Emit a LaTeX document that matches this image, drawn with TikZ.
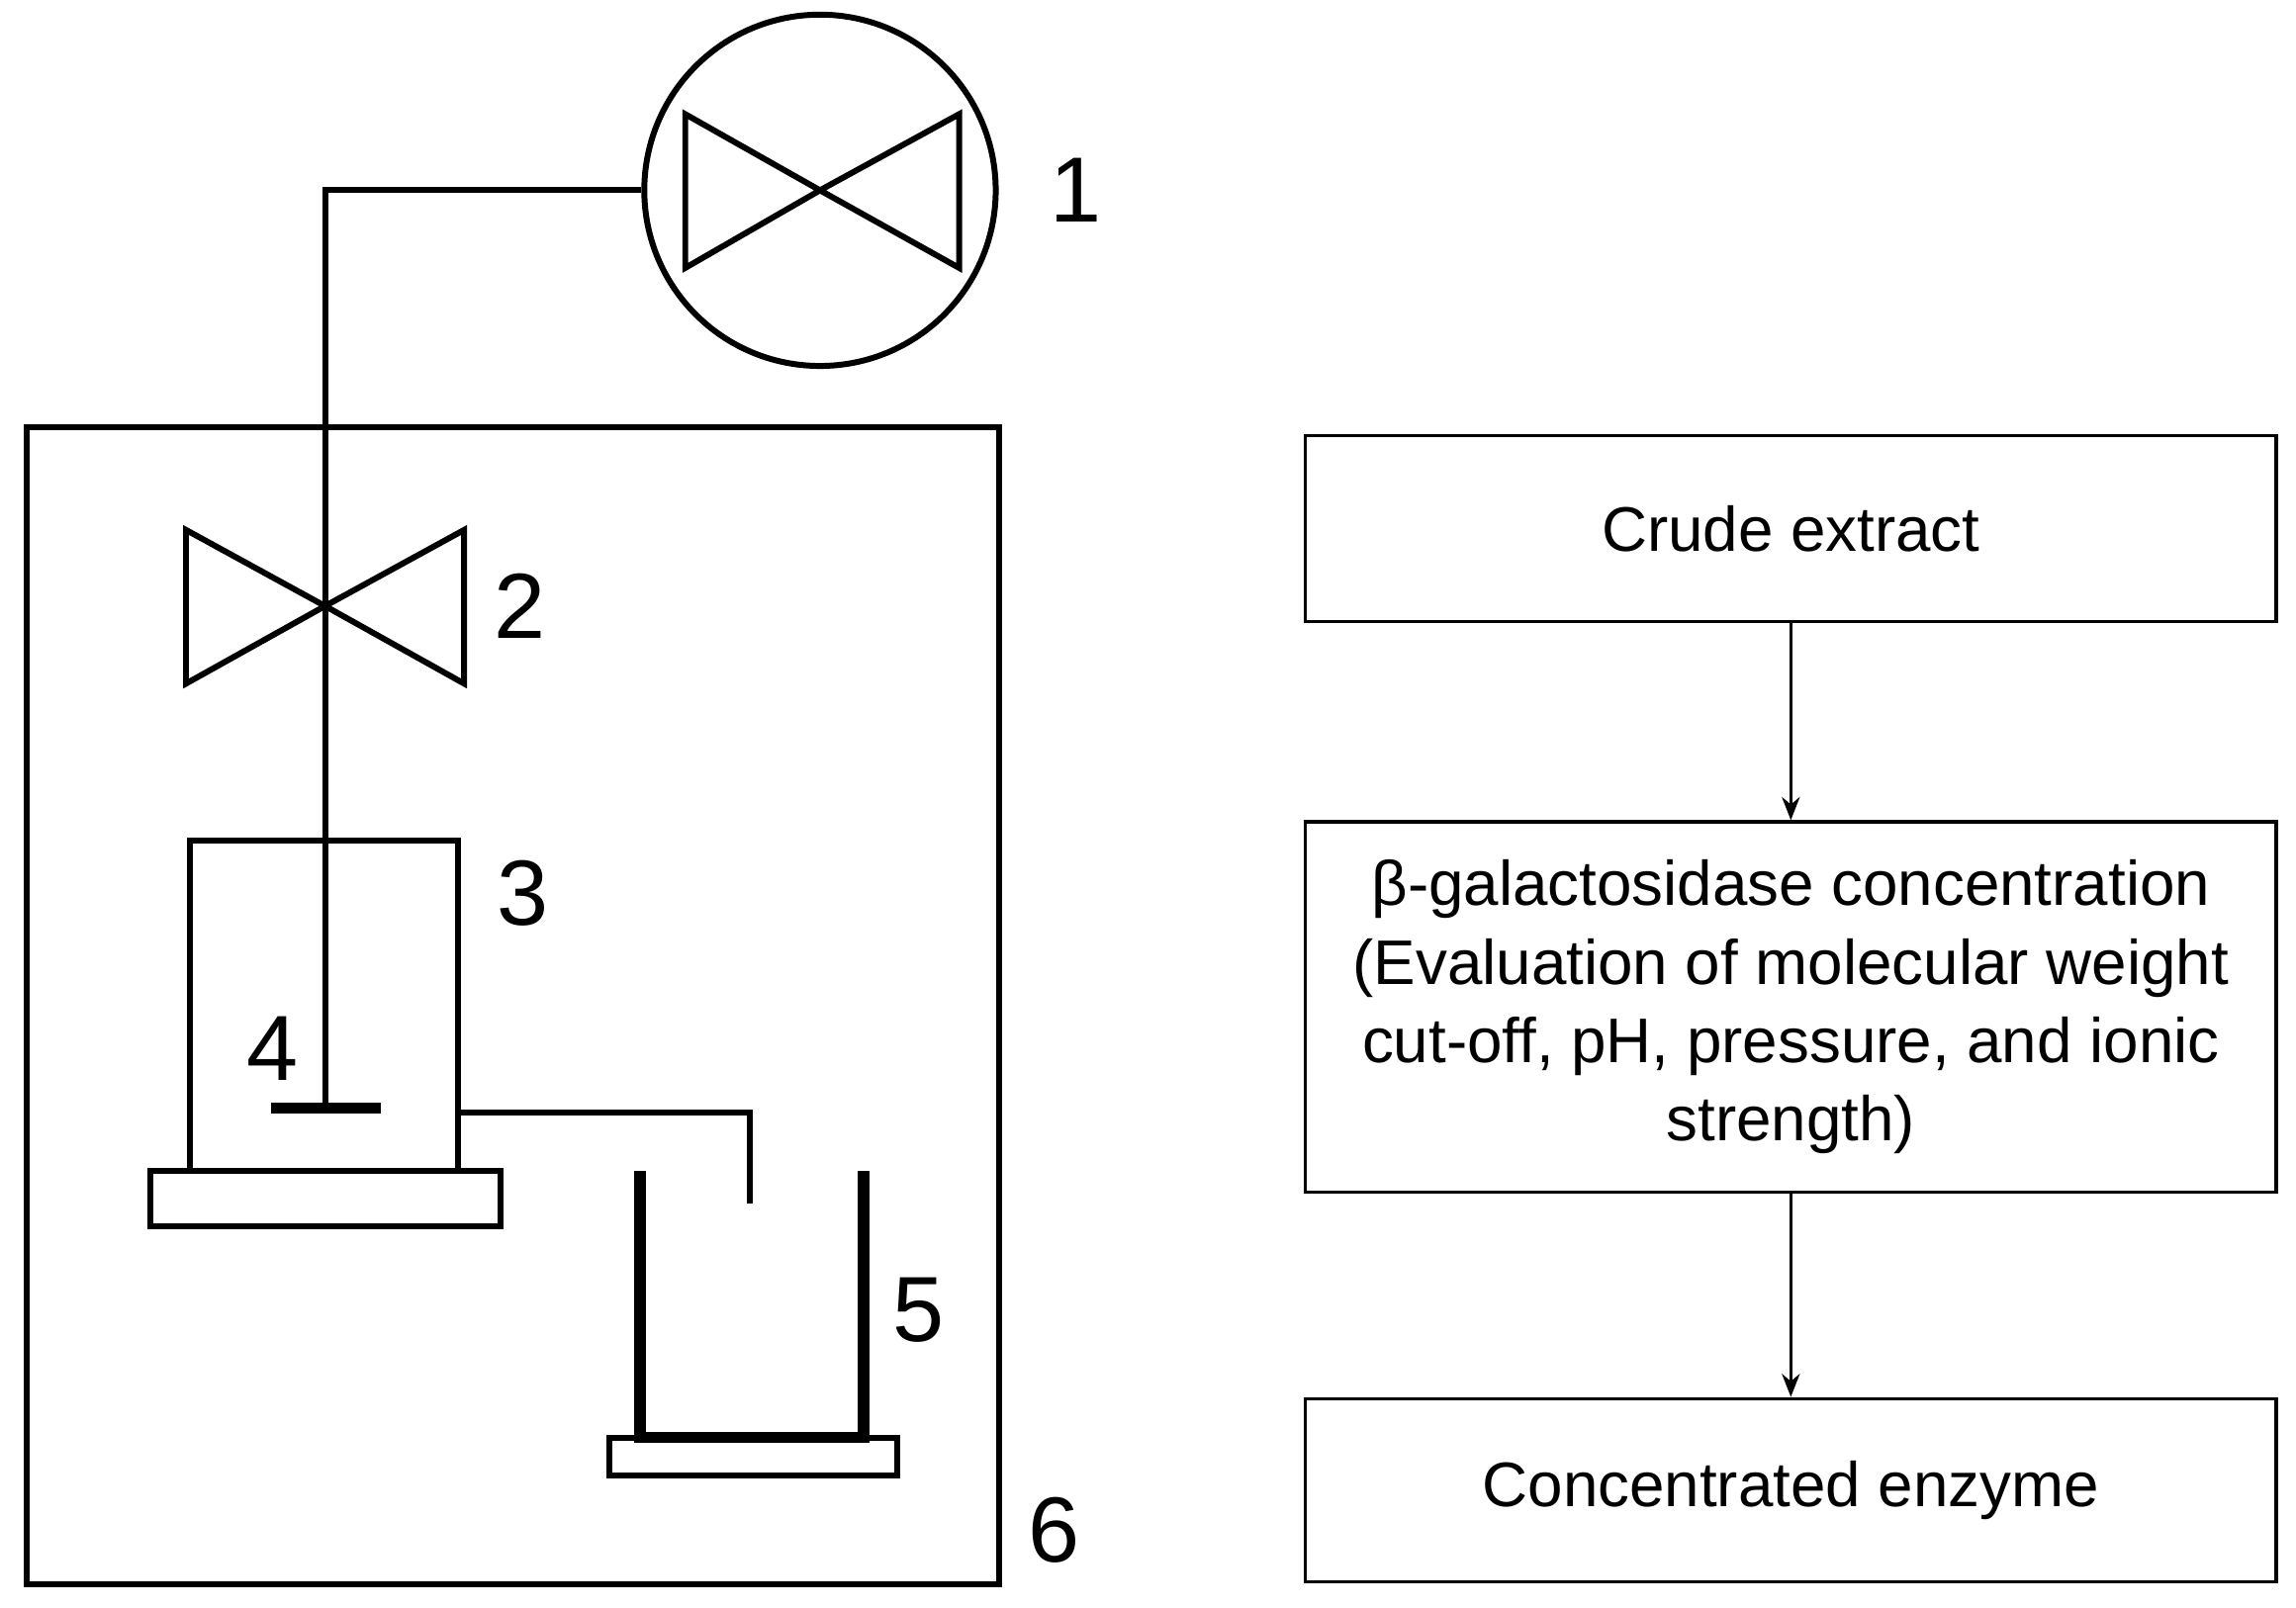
\documentclass[tikz,border=0pt]{standalone}
\usepackage{fontspec}
\setmainfont{Liberation Sans}
\usetikzlibrary{arrows.meta}
\begin{document}
\begin{tikzpicture}[x=0.02cm,y=-0.02cm,
  ln/.style={line width=2.3pt,black},
  thk/.style={line width=4.5pt,black},
  num/.style={font=\fontsize{36}{42}\selectfont},
  fbox/.style={draw,line width=1.4pt,minimum width=663*0.02cm,align=center,font=\fontsize{24.5}{30.5}\selectfont},
  arr/.style={line width=1pt,-{Stealth[length=9pt,width=7pt]}}]
\useasboundingbox (0,0) rectangle (1568,1098);
% pump 1
\node[circle,draw,line width=2.3pt,minimum size=240*0.02cm,inner sep=0] (pump) at (560,130) {};
\draw[ln] (468,78) -- (468,183) -- (560,130) -- cycle;
\draw[ln] (655,78) -- (655,183) -- (560,130) -- cycle;
\node[num] (n1) at (735,130) {1};
% pipe
\coordinate (c1) at (222,130);
\coordinate (c2) at (222,760);
\draw[ln] (pump.west) -- (c1) -- (c2);
% box 6
\draw[ln] (18,292) rectangle (682,1082);
\node[num] (n6) at (720,1045) {6};
% valve 2
\draw[ln] (127,362) -- (127,467) -- (222,414) -- cycle;
\draw[ln] (317,362) -- (317,467) -- (222,414) -- cycle;
\node[num] (n2) at (355,414) {2};
% box 3
\draw[ln] (130,574) rectangle (313,800);
\node[num] (n3) at (357,610) {3};
\draw[thk] (185,757) -- (260,757);
\node[num] (n4) at (186,716) {4};
\draw[ln] (103,800) rectangle (342,838);
% outlet
\draw[ln] (313,760) -- (512,760) -- (512,822);
% beaker 5
\draw[thk] (437,800) -- (437,982) -- (590,982) -- (590,800);
\draw[ln] (416,982) rectangle (613,1008);
\node[num] (n5) at (627,895) {5};
% flowchart
\node[fbox,minimum height=127*0.02cm] (b1) at (1223,361) {Crude extract};
\node[fbox,minimum height=253*0.02cm] (b2) at (1223,688) {β-galactosidase concentration\\(Evaluation of molecular weight\\cut-off, pH, pressure, and ionic\\strength)};
\node[fbox,minimum height=125*0.02cm] (b3) at (1223,1018) {Concentrated enzyme};
\draw[arr] (b1) -- (b2);
\draw[arr] (b2) -- (b3);
\end{tikzpicture}
\end{document}
